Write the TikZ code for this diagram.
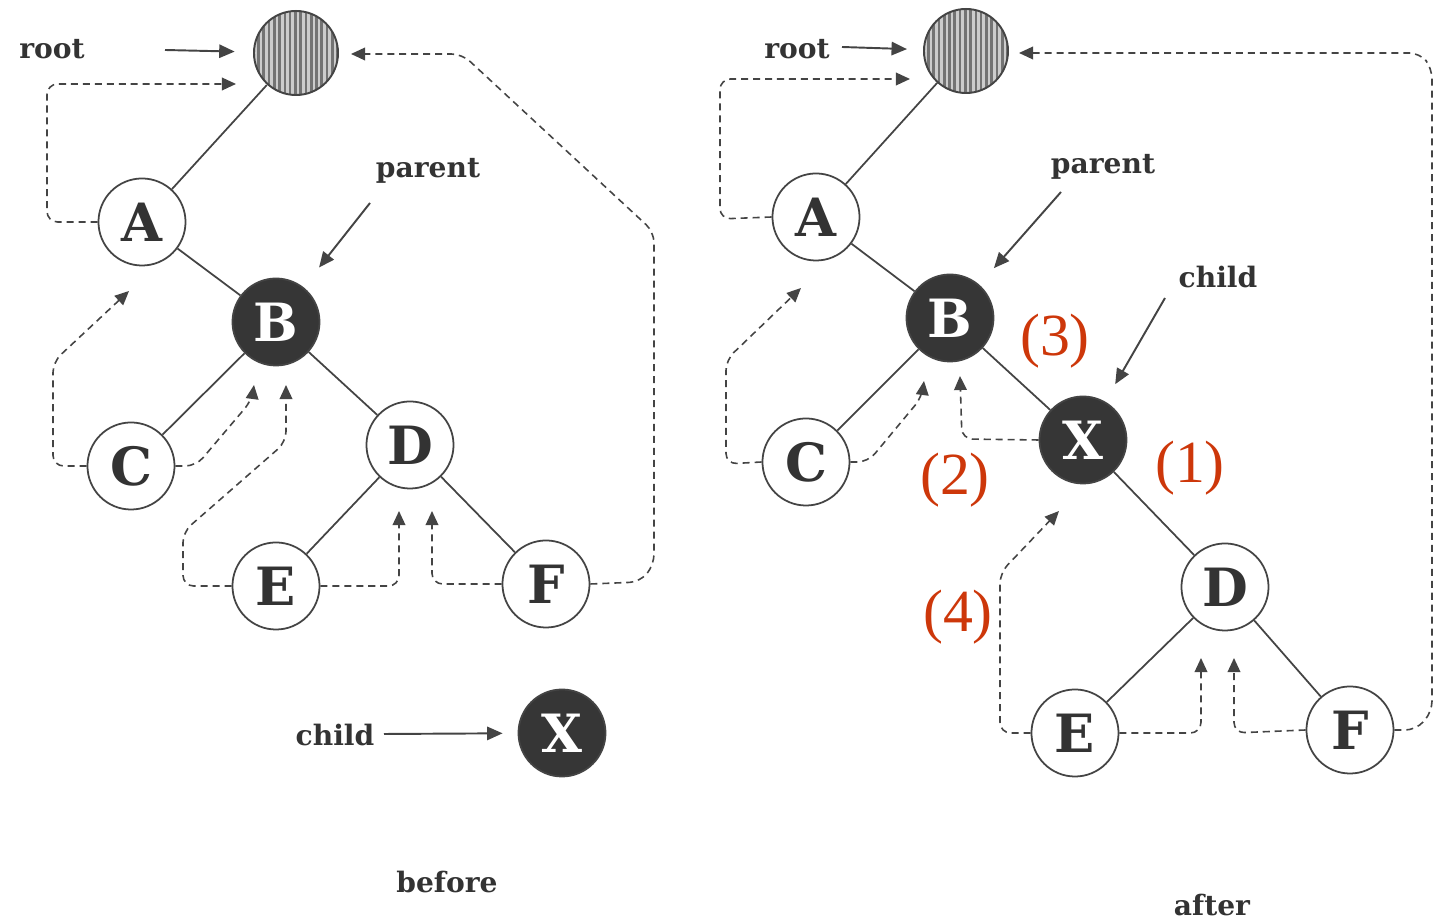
\documentclass[tikz,border=0pt]{standalone}
\usepackage{fontspec}
\usetikzlibrary{arrows.meta,shapes.geometric,patterns.meta}
\newfontfamily\dvserif{DejaVu Serif}
\newfontfamily\libserif{Liberation Serif}
\definecolor{linec}{HTML}{444444}
\definecolor{textc}{HTML}{333333}
\definecolor{darkfill}{HTML}{363636}
\definecolor{redc}{RGB}{205,55,10}
\tikzset{
  nd/.style={circle, draw=linec, line width=0.5pt, fill=white, minimum size=0.87cm, inner sep=0pt,
    text=textc, font=\dvserif\bfseries\fontsize{15}{15}\selectfont},
  dk/.style={nd, fill=darkfill, text=white},
  rt/.style={ellipse, draw=linec, line width=0.55pt, minimum width=0.84cm, minimum height=0.84cm, inner sep=0pt,
    preaction={fill=gray!40}, pattern={Lines[angle=90,distance=1.5pt,line width=0.75pt]}, pattern color=gray!90!black},
  edge/.style={draw=linec, line width=0.5pt},
  thr/.style={draw=linec, line width=0.45pt, dash pattern=on 2pt off 1.4pt, rounded corners=3pt,
    -{Triangle[length=4pt,width=3.6pt]}},
  ptr/.style={draw=linec, line width=0.55pt, -{Triangle[length=4.4pt,width=3.8pt]}},
  lbl/.style={text=textc, inner sep=0pt, font=\dvserif\bfseries\fontsize{8}{8}\selectfont},
  redlbl/.style={text=redc, inner sep=0pt, font=\libserif\fontsize{17}{17}\selectfont}
}
\begin{document}
\begin{tikzpicture}[x=0.01cm,y=-0.01cm]
\useasboundingbox (0,0) rectangle (1441,922);
% ---------------- before ----------------
\node[rt] (rootL) at (296,53) {};
\node[nd] (AL) at (142,222) {A};
\node[dk] (BL) at (276,322) {B};
\node[nd] (CL) at (131,466) {C};
\node[nd] (DL) at (410,445) {D};
\node[nd] (EL) at (276,586) {E};
\node[nd] (FL) at (546,584) {F};
\node[dk] (XL) at (562,733) {X};
\node[lbl] (rootlabL) at (52,49) {root};
\node[lbl] (parentL) at (428,171) {parent};
\node[lbl] (childL) at (335,735) {child};
\node[lbl] (before) at (447,882) {before};

\draw[edge] (rootL) -- (AL);
\draw[edge] (AL) -- (BL);
\draw[edge] (BL) -- (CL);
\draw[edge] (BL) -- (DL);
\draw[edge] (DL) -- (EL);
\draw[edge] (DL) -- (FL);

\coordinate (rLs) at (165,50);
\draw[ptr, shorten >=0.18cm] (rLs) -- (rootL);
\coordinate (pLs) at (370,203);
\draw[ptr, shorten >=0.25cm] (pLs) -- (BL);
\coordinate (cLs) at (384,734);
\draw[ptr, shorten >=0.15cm] (cLs) -- (XL);

\coordinate (tAL) at (236,84);
\draw[thr] (AL.west) -- (47,222) -- (47,84) -- (tAL);
\coordinate (tCLl) at (129,291);
\draw[thr] (CL.west) -- (53,466) -- (53,362) -- (tCLl);
\coordinate (tCLr) at (254,385);
\draw[thr] (CL.east) -- (196,466) -- (252,400) -- (tCLr);
\coordinate (tELl) at (286,385);
\draw[thr] (EL.west) -- (183,586) -- (183,532) -- (286,442) -- (tELl);
\coordinate (tELr) at (399,511);
\draw[thr] (EL.east) -- (399,586) -- (tELr);
\coordinate (tFLl) at (432,511);
\draw[thr] (FL.west) -- (432,584) -- (tFLl);
\coordinate (tFLr) at (351,54);
\draw[thr] (FL.east) -- (640,582) -- (654,565) -- (654,232) -- (462,54) -- (tFLr);

% ---------------- after ----------------
\node[rt] (rootR) at (966,51) {};
\node[nd] (AR) at (816,217) {A};
\node[dk] (BR) at (950,318) {B};
\node[nd] (CR) at (806,462) {C};
\node[dk] (XR) at (1083,440) {X};
\node[nd] (DR) at (1225,587) {D};
\node[nd] (ER) at (1075,733) {E};
\node[nd] (FR) at (1350,730) {F};
\node[lbl] (rootlabR) at (797,49) {root};
\node[lbl] (parentR) at (1103,167) {parent};
\node[lbl] (childR) at (1218,277) {child};
\node[lbl] (after) at (1212,905) {after};
\node[redlbl] (s3) at (1055,341) {(3)};
\node[redlbl] (s1) at (1190,468) {(1)};
\node[redlbl] (s2) at (955,480) {(2)};
\node[redlbl] (s4) at (958,617) {(4)};

\draw[edge] (rootR) -- (AR);
\draw[edge] (AR) -- (BR);
\draw[edge] (BR) -- (CR);
\draw[edge] (BR) -- (XR);
\draw[edge] (XR) -- (DR);
\draw[edge] (DR) -- (ER);
\draw[edge] (DR) -- (FR);

\coordinate (rRs) at (842,47);
\draw[ptr, shorten >=0.16cm] (rRs) -- (rootR);
\coordinate (pRs) at (1061,192);
\draw[ptr, shorten >=0.22cm] (pRs) -- (BR);
\coordinate (cRs) at (1165,298);
\draw[ptr, shorten >=0.2cm] (cRs) -- (XR);

\coordinate (tAR) at (910,79);
\draw[thr] (AR.west) -- (720,219) -- (720,79) -- (tAR);
\coordinate (tCRl) at (801,288);
\draw[thr] (CR.west) -- (726,464) -- (726,360) -- (tCRl);
\coordinate (tCRr) at (924,381);
\draw[thr] (CR.east) -- (868,462) -- (922,397) -- (tCRr);
\coordinate (tXR) at (960,376);
\draw[thr] (XR.west) -- (962,439) -- (tXR);
\coordinate (tERl) at (1059,511);
\draw[thr] (ER.west) -- (1000,733) -- (1000,573) -- (tERl);
\coordinate (tERr) at (1201,658);
\draw[thr] (ER.east) -- (1201,733) -- (tERr);
\coordinate (tFRl) at (1234,658);
\draw[thr] (FR.west) -- (1234,733) -- (tFRl);
\coordinate (tFRr) at (1019,53);
\draw[thr] (FR.east) -- (1416,730) -- (1432,712) -- (1432,68) -- (1420,53) -- (tFRr);
\end{tikzpicture}
\end{document}
